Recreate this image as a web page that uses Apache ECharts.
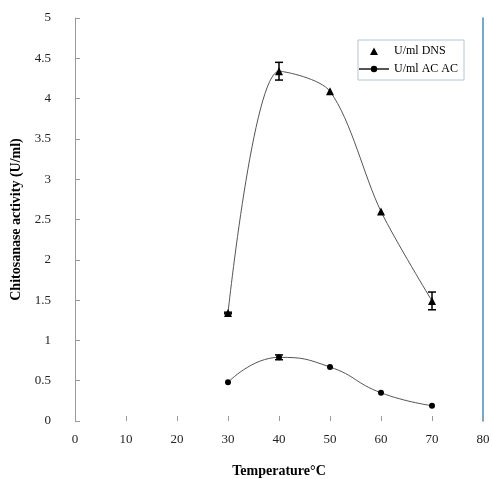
<!DOCTYPE html>
<html>
<head>
<meta charset="utf-8">
<script src="https://cdn.jsdelivr.net/npm/echarts@6/dist/echarts.min.js"></script>
<style>html,body{margin:0;padding:0;background:#fff}#main{width:492px;height:479px}</style>
</head>
<body>
<div id="main"></div>
<script>
// data
var temps = [30, 40, 50, 60, 70];
var dns = [1.34, 4.34, 4.09, 2.6, 1.49];
var dnsErr = [0.01, 0.11, 0, 0, 0.11];
var acac = [0.48, 0.79, 0.67, 0.35, 0.19];
var acacErr = [0, 0.03, 0, 0, 0];

var myChart = echarts.init(document.getElementById('main'));

function pairs(vals) {
    return temps.map(function (t, i) { return [t, vals[i]]; });
}
function errData(vals, errs) {
    return temps.map(function (t, i) { return [t, vals[i] - errs[i], vals[i] + errs[i]]; });
}
function errRender(params, api) {
    if (api.value(2) - api.value(1) <= 0) return null;
    var x = api.value(0);
    var lo = api.coord([x, api.value(1)]);
    var hi = api.coord([x, api.value(2)]);
    var w = 4;
    var st = { stroke: '#000', lineWidth: 1.5 };
    return {
        type: 'group',
        children: [
            { type: 'line', shape: { x1: lo[0], y1: lo[1], x2: hi[0], y2: hi[1] }, style: st },
            { type: 'line', shape: { x1: lo[0] - w, y1: lo[1], x2: lo[0] + w, y2: lo[1] }, style: st },
            { type: 'line', shape: { x1: hi[0] - w, y1: hi[1], x2: hi[0] + w, y2: hi[1] }, style: st }
        ]
    };
}

// triangle centred in a 30x8 box, so the legend keeps it small
var triIcon = 'path://M0,0 L0.05,0 L0.05,0.05 Z M30,8 L29.95,8 L29.95,7.95 Z M15,0.5 L19,8 L11,8 Z';

var font = 'Liberation Serif';
var option = {
    backgroundColor: '#fff',
    textStyle: { fontFamily: font },
    grid: { left: 75, right: 9, top: 18, bottom: 58, outerBoundsMode: 'none' },
    legend: {
        right: 28,
        top: 40,
        orient: 'vertical',
        itemGap: 6,
        padding: [5, 6, 5, 0],
        borderColor: '#b8c4d0',
        borderWidth: 1,
        itemWidth: 30,
        itemHeight: 8,
        textStyle: { fontFamily: font, fontSize: 12, color: '#000' },
        data: [
            { name: 'U/ml DNS', icon: triIcon, itemStyle: { color: '#000' } },
            { name: 'U/ml AC AC' }
        ]
    },
    xAxis: {
        type: 'value',
        min: 0,
        max: 80,
        interval: 10,
        name: 'Temperature°C',
        nameLocation: 'middle',
        nameGap: 43,
        nameTextStyle: { fontFamily: font, fontSize: 14, fontWeight: 'bold', color: '#000' },
        axisLine: { show: false },
        axisTick: { show: true, inside: true, length: 5, lineStyle: { color: '#999' } },
        axisLabel: { fontFamily: font, fontSize: 13, color: '#222', margin: 12 },
        splitLine: { show: false }
    },
    yAxis: [{
        type: 'value',
        min: 0,
        max: 5,
        interval: 0.5,
        name: 'Chitosanase activity (U/ml)',
        nameLocation: 'middle',
        nameGap: 52,
        nameTextStyle: { fontFamily: font, fontSize: 14, fontWeight: 'bold', color: '#000' },
        axisLine: { show: true, lineStyle: { color: '#999' } },
        axisTick: { show: true, inside: true, length: 5, lineStyle: { color: '#999' } },
        axisLabel: { fontFamily: font, fontSize: 13, color: '#222', margin: 24 },
        splitLine: { show: false }
    }, {
        type: 'value',
        position: 'right',
        min: 0,
        max: 5,
        axisLine: { show: true, onZero: false, lineStyle: { color: '#4a8ab8', width: 1.5 } },
        axisTick: { show: false },
        axisLabel: { show: false },
        splitLine: { show: false }
    }],
    series: [
        {
            name: 'U/ml DNS',
            type: 'line',
            data: pairs(dns),
            smooth: 0.3,
            symbol: 'triangle',
            symbolSize: 8,
            itemStyle: { color: '#000' },
            lineStyle: { color: '#555', width: 1 },
            z: 3
        },
        {
            name: 'U/ml AC AC',
            type: 'line',
            data: pairs(acac),
            smooth: 0.5,
            symbol: 'circle',
            symbolSize: 6,
            itemStyle: { color: '#000' },
            lineStyle: { color: '#555', width: 1 },
            z: 3
        },
        {
            type: 'custom',
            renderItem: errRender,
            data: errData(dns, dnsErr),
            encode: { x: 0, y: [1, 2] },
            z: 4
        },
        {
            type: 'custom',
            renderItem: errRender,
            data: errData(acac, acacErr),
            encode: { x: 0, y: [1, 2] },
            z: 4
        }
    ]
};

myChart.setOption(option);
</script>
</body>
</html>
